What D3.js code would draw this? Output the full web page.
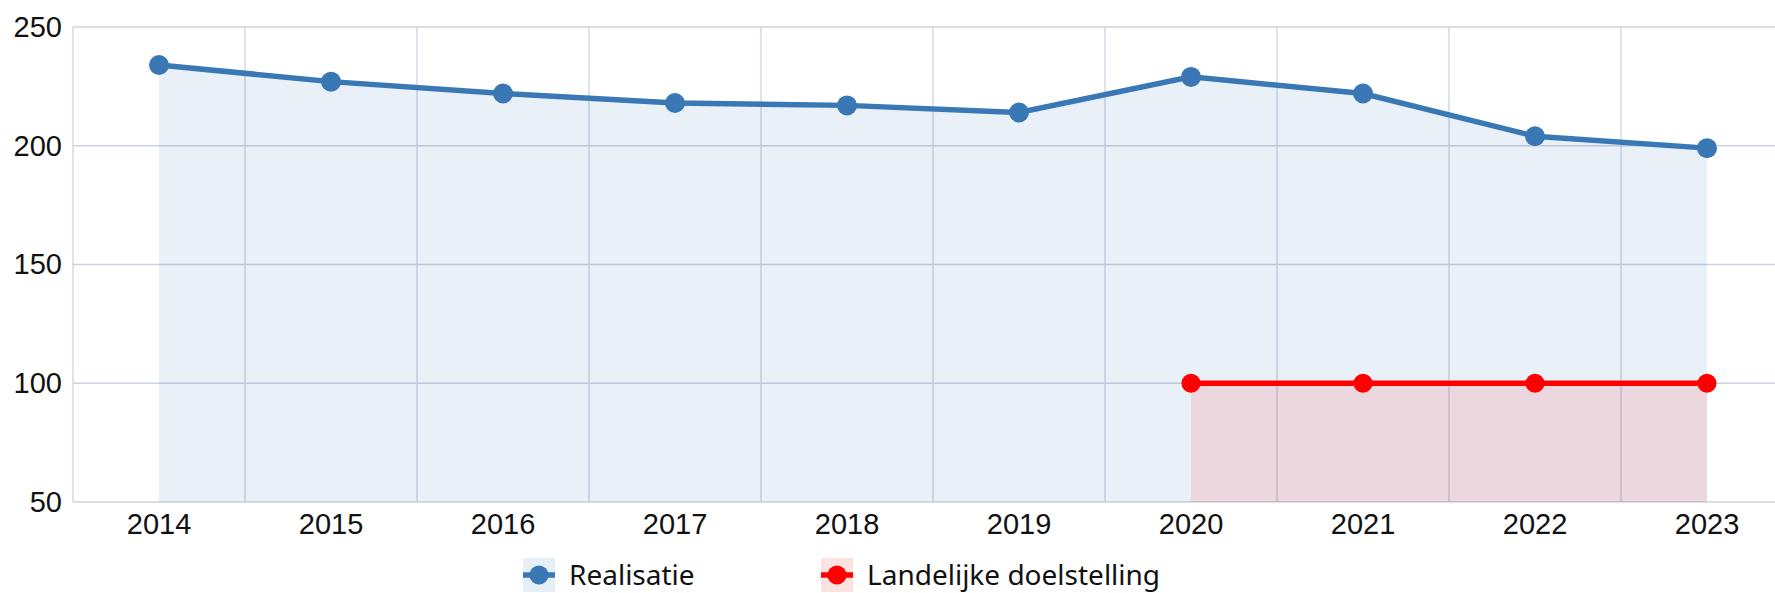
<!DOCTYPE html>
<html>
<head>
<meta charset="utf-8">
<style>
  body { margin: 0; background: #fff; }
  svg { display: block; font-family: "Segoe UI", "Noto Sans", sans-serif; }
  .tick text { fill: #111; font-size: 29px; }
  .legend text { fill: #111; font-size: 28px; }
</style>
<script src="https://d3js.org/d3.v7.min.js"></script>
</head>
<body>
<svg id="chart"></svg>
<script>
var years = ["2014", "2015", "2016", "2017", "2018", "2019", "2020", "2021", "2022", "2023"];
var realisatie = [234, 227, 222, 218, 217, 214, 229, 222, 204, 199];
var doelYears = ["2020", "2021", "2022", "2023"];
var doelstelling = [100, 100, 100, 100];
var yTicks = [50, 100, 150, 200, 250];

var width = 1775, height = 593;
var plotLeft = 73, plotTop = 27, plotBottom = 502;

var svg = d3.select("#chart").attr("width", width).attr("height", height);

var x = d3.scaleBand().domain(years).range([plotLeft, plotLeft + 172 * years.length]);
var y = d3.scaleLinear().domain([50, 250]).range([plotBottom, plotTop]);
var cx = function(d) { return x(d) + x.bandwidth() / 2; };

// horizontal grid
svg.append("g")
    .selectAll("line").data(yTicks).enter().append("line")
    .attr("x1", plotLeft).attr("x2", width)
    .attr("y1", function(d) { return y(d); }).attr("y2", function(d) { return y(d); })
    .attr("stroke", "#ccd3e0").attr("stroke-width", 1.3);

// vertical grid at band edges
svg.append("g")
    .selectAll("line").data(years).enter().append("line")
    .attr("x1", function(d) { return x(d); }).attr("x2", function(d) { return x(d); })
    .attr("y1", plotTop).attr("y2", plotBottom)
    .attr("stroke", "#ccd3e0").attr("stroke-width", 1.3);

var blue = years.map(function(d, i) { return { x: d, v: realisatie[i] }; });
var red = doelYears.map(function(d, i) { return { x: d, v: doelstelling[i] }; });

var area = d3.area().x(function(d) { return cx(d.x); })
    .y0(y(50)).y1(function(d) { return y(d.v); });
var line = d3.line().x(function(d) { return cx(d.x); }).y(function(d) { return y(d.v); });

svg.append("path").datum(blue).attr("d", area)
    .attr("fill", "#3a78b5").attr("fill-opacity", 0.11);
svg.append("path").datum(red).attr("d", area)
    .attr("fill", "#ff0000").attr("fill-opacity", 0.1);

svg.append("path").datum(blue).attr("d", line)
    .attr("fill", "none").attr("stroke", "#3a78b5").attr("stroke-width", 5.5);
svg.append("g").selectAll("circle").data(blue).enter().append("circle")
    .attr("cx", function(d) { return cx(d.x); }).attr("cy", function(d) { return y(d.v); })
    .attr("r", 10).attr("fill", "#3a78b5");

svg.append("path").datum(red).attr("d", line)
    .attr("fill", "none").attr("stroke", "#ff0000").attr("stroke-width", 5.5);
svg.append("g").selectAll("circle").data(red).enter().append("circle")
    .attr("cx", function(d) { return cx(d.x); }).attr("cy", function(d) { return y(d.v); })
    .attr("r", 9.5).attr("fill", "#ff0000");

// axes
var xAxis = svg.append("g").attr("transform", "translate(0," + plotBottom + ")")
    .call(d3.axisBottom(x).tickSize(0).tickPadding(11));
xAxis.select(".domain").remove();

var yAxis = svg.append("g").attr("transform", "translate(" + plotLeft + ",0)")
    .call(d3.axisLeft(y).tickValues(yTicks).tickSize(0).tickPadding(11));
yAxis.select(".domain").remove();

// legend
var legend = [
  { label: "Realisatie", color: "#3a78b5", bg: "#e7eff6", x: 523 },
  { label: "Landelijke doelstelling", color: "#ff0000", bg: "#fde2e2", x: 821 }
];
var lg = svg.append("g").attr("class", "legend")
    .selectAll("g").data(legend).enter().append("g")
    .attr("transform", function(d) { return "translate(" + d.x + ",575)"; });
lg.append("rect").attr("x", 0).attr("y", -17).attr("width", 32).attr("height", 34)
    .attr("fill", function(d) { return d.bg; });
lg.append("line").attr("x1", 0).attr("x2", 32).attr("y1", 0).attr("y2", 0)
    .attr("stroke", function(d) { return d.color; }).attr("stroke-width", 5.5);
lg.append("circle").attr("cx", 16).attr("r", 9.5).attr("fill", function(d) { return d.color; });
lg.append("text").attr("x", 46).attr("dy", "0.35em")
    .text(function(d) { return d.label; });
</script>
</body>
</html>
